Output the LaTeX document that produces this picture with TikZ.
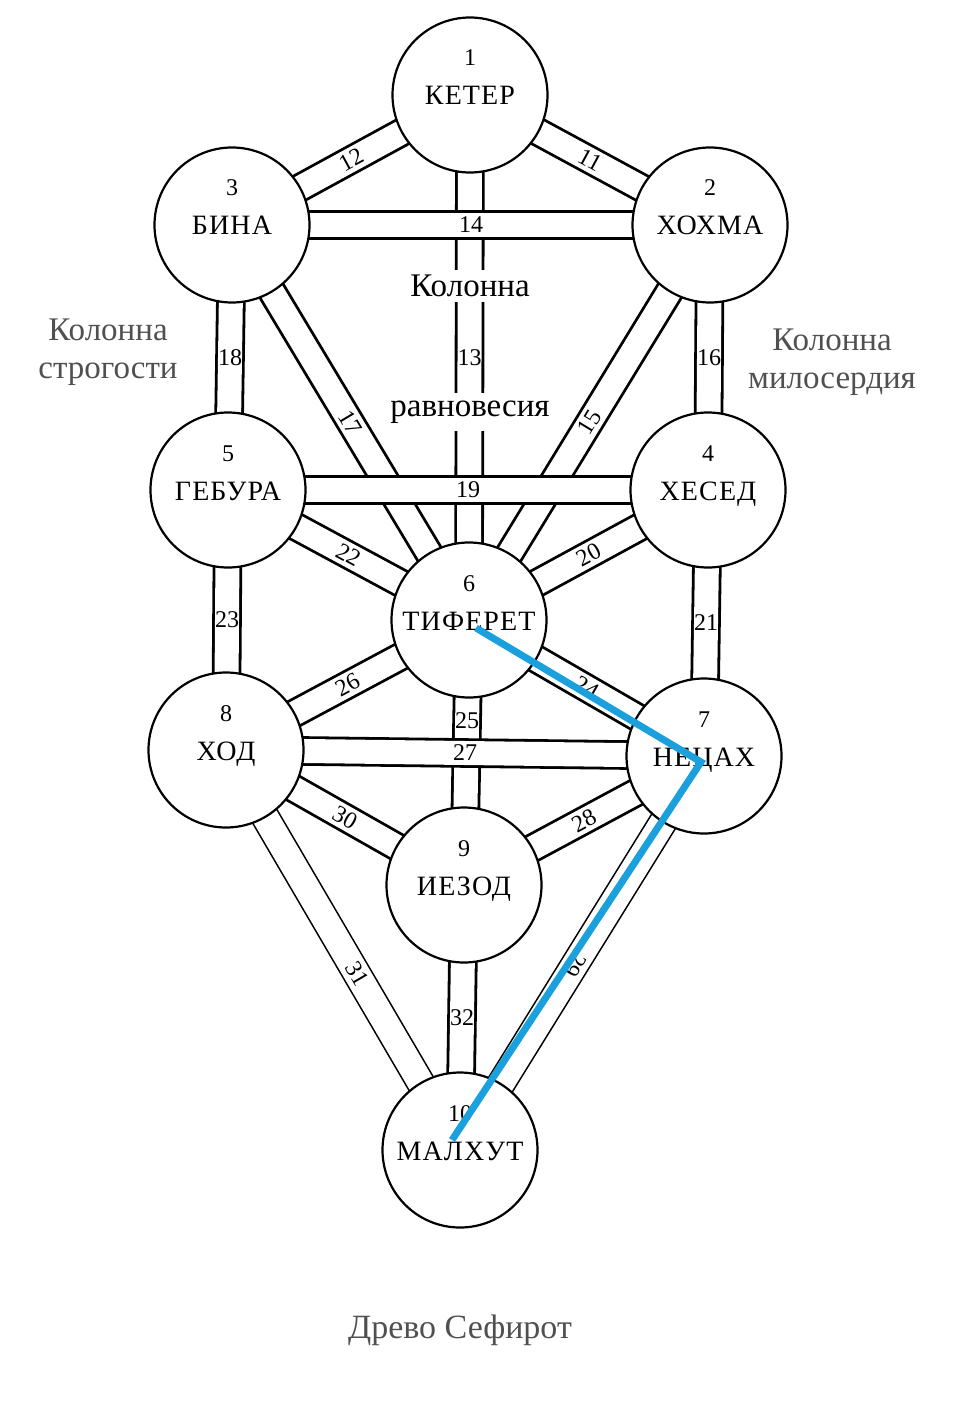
\documentclass[tikz,border=0pt]{standalone}
\usepackage{fontspec}
\setmainfont{Liberation Serif}
\newfontfamily\namefont[LetterSpace=4]{Liberation Serif}
\pgfdeclarelayer{background}
\pgfsetlayers{background,main}
\definecolor{marker}{RGB}{27,160,222}
\definecolor{pillar}{RGB}{80,80,80}
\tikzset{
  sefira/.style={circle, draw, line width=2.2pt, fill=white, minimum size=155pt, inner sep=0pt},
  sefnum/.style={anchor=base, inner sep=0pt, font=\fontsize{24}{24}\selectfont},
  sefname/.style={anchor=base, inner sep=0pt, font=\namefont\fontsize{28}{28}\selectfont},
  channel/.style={draw, line width=2.8pt, double=white, double distance=24pt},
  thinchannel/.style={draw, line width=1.6pt, double=white, double distance=26pt},
  lbl/.style={inner sep=0pt, font=\fontsize{24}{24}\selectfont},
  column/.style={fill=white, inner xsep=2pt, font=\fontsize{33}{33}\selectfont},
  pillarlbl/.style={text=pillar, align=center, font=\fontsize{33}{38}\selectfont},
}
\begin{document}
\begin{tikzpicture}[x=1pt, y=-1pt]
\useasboundingbox (0,0) rectangle (976,1404);

% the ten sefirot
\foreach \id/\px/\py/\n/\name in {
    keter/470/95/1/КЕТЕР, hokhma/710/225/2/ХОХМА, bina/232/225/3/БИНА,
    hesed/708/490/4/ХЕСЕД, gebura/228/490/5/ГЕБУРА, tiferet/469/620/6/ТИФЕРЕТ,
    netzah/704/756/7/НЕЦАХ, hod/226/750/8/ХОД, yesod/464/885/9/ИЕЗОД,
    malkhut/460/1150/10/МАЛХУТ}
{
  \node[sefira] (\id) at (\px,\py) {};
  \node[sefnum] at ([yshift=29pt]\id.center) {\n};
  \node[sefname] at ([yshift=-10pt]\id.center) {\name};
}

% the 22 paths, crossing ones last
\begin{pgfonlayer}{background}
  \draw[channel] (keter.center) -- node[lbl,sloped] {11} (hokhma.center);
  \draw[channel] (bina.center) -- node[lbl,sloped] {12} (keter.center);
  \draw[channel] (keter.center) -- node[lbl] {13} (tiferet.center);
  \draw[channel] (tiferet.center) -- node[lbl,sloped] {15} (hokhma.center);
  \draw[channel] (hokhma.center) -- node[lbl] {16} (hesed.center);
  \draw[channel] (bina.center) -- node[lbl,sloped] {17} (tiferet.center);
  \draw[channel] (bina.center) -- node[lbl] {18} (gebura.center);
  \draw[channel] (tiferet.center) -- node[lbl,sloped] {20} (hesed.center);
  \draw[channel] (hesed.center) -- node[lbl] {21} (netzah.center);
  \draw[channel] (gebura.center) -- node[lbl,sloped] {22} (tiferet.center);
  \draw[channel] (gebura.center) -- node[lbl] {23} (hod.center);
  \draw[channel] (tiferet.center) -- node[lbl,sloped] {24} (netzah.center);
  \draw[channel] (tiferet.center) -- node[lbl,pos=0.38] {25} (yesod.center);
  \draw[channel] (hod.center) -- node[lbl,sloped] {26} (tiferet.center);
  \draw[channel] (yesod.center) -- node[lbl,sloped] {28} (netzah.center);
  \draw[thinchannel] (netzah.center) -- node[lbl,sloped,allow upside down,pos=0.53] {29} (malkhut.center);
  \draw[channel] (hod.center) -- node[lbl,sloped] {30} (yesod.center);
  \draw[thinchannel] (hod.center) -- node[lbl,sloped,pos=0.56] {31} (malkhut.center);
  \draw[channel] (yesod.center) -- node[lbl] {32} (malkhut.center);
  \draw[channel] (bina.center) -- node[lbl] {14} (hokhma.center);
  \draw[channel] (gebura.center) -- node[lbl] {19} (hesed.center);
  \draw[channel] (hod.center) -- node[lbl] {27} (netzah.center);
\end{pgfonlayer}

% the three pillars
\node[column, inner ysep=5pt] (balance1) at (470,286) {Колонна};
\node[column, inner ysep=8pt] (balance2) at (470,412) {равновесия};
\node[pillarlbl] (severity) at (108,352) {Колонна\\строгости};
\node[pillarlbl] (mercy) at (832,362) {Колонна\\милосердия};

\node[text=pillar, font=\fontsize{34}{34}\selectfont] (caption) at (460,1330) {Древо Сефирот};

% blue stroke
\coordinate (m1) at (476,628);
\coordinate (m2) at (701,762);
\coordinate (m3) at (452,1140);
\draw[marker, line width=7pt] (m1) -- (m2) -- (m3);
\end{tikzpicture}
\end{document}
